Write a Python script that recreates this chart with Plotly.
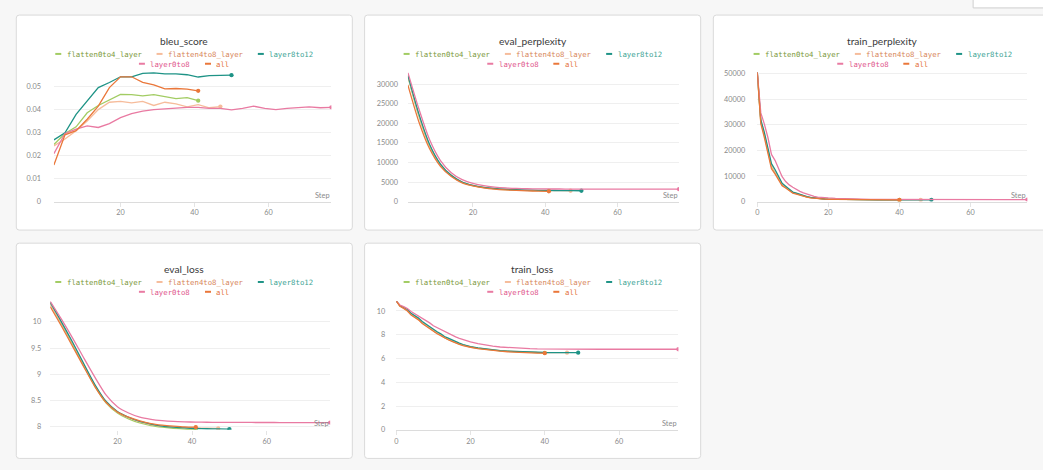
import plotly.graph_objects as go

# ---------------------------------------------------------------- steps
eval_steps = [2, 5, 8, 11, 14, 17, 20, 23, 26, 29, 32, 35, 38, 41, 44, 47,
              50, 53, 56, 59, 62, 65, 68, 71, 74, 77]
train_steps = [0, 1, 2, 3, 4, 5, 6, 7, 8, 9, 10, 11, 12, 13, 14, 15, 16, 17, 18, 19, 20,
               22, 24, 26, 28, 30, 32, 34, 36, 38, 40,
               43, 46, 49, 52, 55, 58, 61, 64, 67, 70, 73, 76]

runs = ["flatten0to4_layer", "flatten4to8_layer", "layer8to12", "layer0to8", "all"]

# ---------------------------------------------------------------- bleu_score
bleu_flatten0to4 = [0.0249, 0.0297, 0.0326, 0.0387, 0.0419, 0.0444, 0.0467, 0.0466, 0.0461,
                    0.0466, 0.0456, 0.0449, 0.0453, 0.0440]
bleu_flatten4to8 = [0.0243, 0.0273, 0.0309, 0.0351, 0.0401, 0.0433, 0.0437, 0.0430, 0.0437,
                    0.0419, 0.0433, 0.0426, 0.0413, 0.0423, 0.0409, 0.0414]
bleu_layer8to12 = [0.0269, 0.0300, 0.0380, 0.0437, 0.0497, 0.0519, 0.0544, 0.0544, 0.0559,
                   0.0561, 0.0557, 0.0557, 0.0553, 0.0543, 0.0549, 0.0550, 0.0551]
bleu_layer0to8 = [0.0209, 0.0297, 0.0316, 0.0330, 0.0323, 0.0340, 0.0366, 0.0383, 0.0394,
                  0.0401, 0.0404, 0.0409, 0.0411, 0.0411, 0.0406, 0.0406, 0.0400, 0.0406,
                  0.0416, 0.0406, 0.0401, 0.0406, 0.0409, 0.0413, 0.0409, 0.0411]
bleu_all = [0.0159, 0.0291, 0.0309, 0.0359, 0.0416, 0.0497, 0.0544, 0.0544, 0.0520,
            0.0509, 0.0491, 0.0493, 0.0490, 0.0483]

# ---------------------------------------------------------------- eval_perplexity
eppl_flatten0to4 = [32000, 22000, 14300, 9400, 6600, 4900, 4050, 3550, 3250, 3050, 2920,
                    2840, 2790, 2750]
eppl_flatten4to8 = [32100, 22200, 14400, 9500, 6700, 4950, 4100, 3600, 3300, 3100, 2980,
                    2900, 2850, 2810, 2790, 2770]
eppl_layer8to12 = [32300, 22500, 14600, 9600, 6700, 5000, 4150, 3650, 3350, 3150, 3020,
                   2940, 2880, 2840, 2810, 2790, 2770]
eppl_layer0to8 = [33000, 23800, 15800, 10500, 7400, 5600, 4650, 4050, 3700, 3480, 3350,
                  3280, 3240, 3220, 3210, 3200, 3195, 3190, 3190, 3185, 3185, 3180,
                  3180, 3180, 3180, 3180]
eppl_all = [29800, 20500, 13500, 9000, 6400, 4800, 4000, 3500, 3180, 2980, 2840, 2740,
            2670, 2620]

# ---------------------------------------------------------------- eval_loss
eloss_flatten0to4 = [10.35, 9.97, 9.57, 9.16, 8.77, 8.45, 8.26, 8.15, 8.07, 8.02, 7.99,
                     7.97, 7.955, 7.945]
eloss_flatten4to8 = [10.35, 9.98, 9.59, 9.18, 8.79, 8.47, 8.28, 8.17, 8.09, 8.04, 8.01,
                     7.99, 7.98, 7.975, 7.97, 7.966]
eloss_layer8to12 = [10.37, 10.00, 9.61, 9.20, 8.80, 8.48, 8.29, 8.18, 8.10, 8.05, 8.01,
                    7.99, 7.975, 7.965, 7.96, 7.956, 7.953]
eloss_layer0to8 = [10.39, 10.05, 9.69, 9.31, 8.94, 8.60, 8.38, 8.26, 8.18, 8.14, 8.115,
                   8.10, 8.092, 8.087, 8.084, 8.082, 8.081, 8.08, 8.08, 8.079, 8.079,
                   8.078, 8.078, 8.078, 8.077, 8.077]
eloss_all = [10.29, 9.92, 9.53, 9.14, 8.76, 8.46, 8.28, 8.18, 8.11, 8.06, 8.03, 8.01,
             7.995, 7.99]

# ---------------------------------------------------------------- train_perplexity
tppl_flatten0to4 = [50500, 31000, 25800, 19800, 13600, 11400, 8900, 6500, 5500, 4500, 3450,
                    3050, 2600, 2050, 1780, 1520, 1330, 1190, 1060, 970, 920,
                    845, 785, 745, 715, 695, 680, 668, 660, 654, 650]
tppl_flatten4to8 = [50500, 31300, 26200, 20200, 14000, 11800, 9200, 6800, 5700, 4700, 3550,
                    3150, 2680, 2120, 1830, 1560, 1370, 1220, 1080, 990, 935,
                    860, 800, 760, 730, 710, 693, 682, 673, 667, 662, 658, 655]
tppl_layer8to12 = [50500, 32000, 27000, 21000, 14800, 12500, 9800, 7100, 6000, 4900, 3700,
                   3300, 2800, 2200, 1900, 1600, 1400, 1250, 1100, 1000, 950,
                   870, 810, 770, 740, 720, 705, 695, 685, 675, 670, 665, 662, 660]
tppl_layer0to8 = [50500, 34600, 30200, 25000, 18400, 16100, 12900, 9700, 7800, 6500, 5600,
                  4700, 4000, 3400, 2900, 2400, 2000, 1750, 1580, 1470, 1400,
                  1250, 1120, 1030, 960, 910, 870, 840, 820, 800, 790,
                  780, 780, 775, 775, 775, 770, 770, 770, 770, 770, 770, 770]
tppl_all = [50500, 30500, 25000, 19000, 12800, 10800, 8400, 6200, 5300, 4300, 3300,
            2900, 2450, 1950, 1700, 1450, 1280, 1150, 1020, 940, 890,
            820, 760, 720, 690, 670, 655, 645, 640, 635, 630]

# ---------------------------------------------------------------- train_loss
tloss_flatten0to4 = [10.83, 10.42, 10.25, 10.05, 9.72, 9.50, 9.30, 9.00, 8.78, 8.58, 8.30,
                     8.13, 7.98, 7.75, 7.62, 7.47, 7.32, 7.22, 7.12, 7.03, 6.97,
                     6.86, 6.78, 6.71, 6.65, 6.61, 6.57, 6.55, 6.52, 6.50, 6.48]
tloss_flatten4to8 = [10.83, 10.43, 10.26, 10.06, 9.74, 9.52, 9.32, 9.03, 8.80, 8.60, 8.33,
                     8.16, 8.00, 7.78, 7.64, 7.49, 7.34, 7.24, 7.14, 7.05, 6.99,
                     6.87, 6.79, 6.72, 6.66, 6.62, 6.58, 6.56, 6.53, 6.51, 6.50, 6.49, 6.49]
tloss_layer8to12 = [10.83, 10.45, 10.30, 10.12, 9.80, 9.60, 9.40, 9.12, 8.90, 8.70, 8.42,
                    8.25, 8.08, 7.85, 7.72, 7.56, 7.40, 7.30, 7.18, 7.08, 7.01,
                    6.89, 6.80, 6.73, 6.67, 6.62, 6.59, 6.56, 6.54, 6.52, 6.51, 6.50, 6.50, 6.49]
tloss_layer0to8 = [10.83, 10.50, 10.36, 10.20, 9.95, 9.76, 9.60, 9.36, 9.16, 9.00, 8.76,
                   8.60, 8.45, 8.26, 8.12, 7.97, 7.82, 7.70, 7.60, 7.49, 7.41,
                   7.26, 7.14, 7.04, 6.97, 6.92, 6.88, 6.85, 6.83, 6.81, 6.80,
                   6.79, 6.79, 6.78, 6.78, 6.78, 6.78, 6.78, 6.78, 6.78, 6.78, 6.78, 6.78]
tloss_all = [10.83, 10.40, 10.22, 10.00, 9.66, 9.45, 9.25, 8.95, 8.72, 8.52, 8.25,
             8.08, 7.93, 7.72, 7.58, 7.44, 7.29, 7.19, 7.09, 7.01, 6.95,
             6.84, 6.75, 6.68, 6.62, 6.57, 6.53, 6.50, 6.48, 6.46, 6.45]

# ---------------------------------------------------------------- styling
W, H = 1043, 470
line_colors = {"flatten0to4_layer": "#a2cc63", "flatten4to8_layer": "#f6bc9b",
               "layer8to12": "#1e9386", "layer0to8": "#e97aa2", "all": "#ea773a"}
text_colors = {"flatten0to4_layer": "#7b983b", "flatten4to8_layer": "#d7865a",
               "layer8to12": "#3ba394", "layer0to8": "#e0558b", "all": "#e4713a"}
SANS = "Lato, 'Open Sans', sans-serif"
MONO = "'DejaVu Sans Mono', monospace"
TICK_COLOR = "#8a8a8a"


def fx(p):
    return p / W


def fy(p):
    return 1 - p / H


panels = [
    dict(title="bleu_score", card=(14.3, 12.3, 351, 231), plot=(52, 330), ybot=202,
         xr=[2, 77], yr=[0, 0.057], ypx=2333.3, steps=eval_steps, spline=False, stand=12,
         yt=[0, 0.01, 0.02, 0.03, 0.04, 0.05], ytt=["0", "0.01", "0.02", "0.03", "0.04", "0.05"],
         xt=[20, 40, 60], base=True,
         data=[bleu_flatten0to4, bleu_flatten4to8, bleu_layer8to12, bleu_layer0to8, bleu_all]),
    dict(title="eval_perplexity", card=(363.3, 12.3, 700, 231), plot=(406.7, 678.3), ybot=202,
         xr=[2, 77], yr=[0, 33000], ypx=119.3 / 30000, steps=eval_steps, spline=True, stand=9,
         yt=[0, 5000, 10000, 15000, 20000, 25000, 30000],
         ytt=["0", "5000", "10000", "15000", "20000", "25000", "30000"],
         xt=[20, 40, 60], base=True,
         data=[eppl_flatten0to4, eppl_flatten4to8, eppl_layer8to12, eppl_layer0to8, eppl_all]),
    dict(title="train_perplexity", card=(712.7, 12.3, 1051, 231), plot=(756.7, 1027.3), ybot=202,
         xr=[0, 76], yr=[0, 50500], ypx=130.35 / 50000, steps=train_steps, spline=False, stand=11,
         yt=[0, 10000, 20000, 30000, 40000, 50000],
         ytt=["0", "10000", "20000", "30000", "40000", "50000"],
         xt=[0, 20, 40, 60], base=True,
         data=[tppl_flatten0to4, tppl_flatten4to8, tppl_layer8to12, tppl_layer0to8, tppl_all]),
    dict(title="eval_loss", card=(14.3, 244.3, 351, 463.3), plot=(48.3, 328.8), ybot=434.2,
         xr=[2, 77], yr=[7.94, 10.39], ypx=53.33, steps=eval_steps, spline=True, stand=8,
         yt=[8, 8.5, 9, 9.5, 10], ytt=["8", "8.5", "9", "9.5", "10"],
         xt=[20, 40, 60], base=False,
         data=[eloss_flatten0to4, eloss_flatten4to8, eloss_layer8to12, eloss_layer0to8, eloss_all]),
    dict(title="train_loss", card=(363.3, 244.3, 700, 463.3), plot=(395, 677.7), ybot=434.3,
         xr=[0, 76], yr=[0, 10.83], ypx=12.1, steps=train_steps, spline=False, stand=10,
         yt=[0, 2, 4, 6, 8, 10], ytt=["0", "2", "4", "6", "8", "10"],
         xt=[0, 20, 40, 60], base=True,
         data=[tloss_flatten0to4, tloss_flatten4to8, tloss_layer8to12, tloss_layer0to8, tloss_all]),
]


def card_path(x0, y0, x1, y1, r=3.0):
    rx, ry = r / W, r / H
    X0, X1, YT, YB = fx(x0), fx(x1), fy(y0), fy(y1)
    return (f"M{X0 + rx},{YT} L{X1 - rx},{YT} Q{X1},{YT} {X1},{YT - ry} "
            f"L{X1},{YB + ry} Q{X1},{YB} {X1 - rx},{YB} L{X0 + rx},{YB} "
            f"Q{X0},{YB} {X0},{YB + ry} L{X0},{YT - ry} Q{X0},{YT} {X0 + rx},{YT} Z")


fig = go.Figure()
shapes, annotations = [], []
layout = {}

# small control box peeking in at the top right of the page
shapes.append(dict(type="rect", xref="paper", yref="paper", x0=fx(973), x1=fx(1050),
                   y0=fy(5), y1=fy(-6), fillcolor="white", line=dict(color="#cfcfcf", width=1),
                   layer="below"))

CW = 4.41          # monospace advance at the legend font size
DASH, GAP, SEP = 6, 5.5, 15

for i, p in enumerate(panels, start=1):
    xa, ya = f"xaxis{i}", f"yaxis{i}"
    xref, yref = f"x{i}", f"y{i}"
    cx0, cy0, cx1, cy1 = p["card"]
    shapes.append(dict(type="path", xref="paper", yref="paper", path=card_path(cx0, cy0, cx1, cy1),
                       fillcolor="white", line=dict(color="#dadada", width=1), layer="below"))

    left, right = p["plot"]
    ybot = p["ybot"]
    ytop = ybot - (p["yr"][1] - p["yr"][0]) * p["ypx"]

    layout[xa] = dict(domain=[fx(left), fx(right)], range=p["xr"], anchor=yref,
                      tickvals=p["xt"], ticktext=[str(v) for v in p["xt"]],
                      showgrid=False, zeroline=False, showline=p["base"],
                      linecolor="#dcdcdc", linewidth=1.2,
                      ticks="outside", ticklen=4, tickcolor="#e4e4e4", tickwidth=1,
                      tickfont=dict(family=SANS, size=7.3, color=TICK_COLOR), fixedrange=True)
    layout[ya] = dict(domain=[fy(ybot), fy(ytop)], range=p["yr"], anchor=xref,
                      tickvals=p["yt"], ticktext=p["ytt"], showgrid=True,
                      gridcolor="#efefef", gridwidth=1, zeroline=False, showline=False,
                      ticks="", ticklabelstandoff=p["stand"],
                      tickfont=dict(family=SANS, size=7.3, color=TICK_COLOR), fixedrange=True)

    for run, vals in zip(runs, p["data"]):
        xs = p["steps"][:len(vals)]
        fig.add_trace(go.Scatter(
            x=xs, y=vals, mode="lines", xaxis=xref, yaxis=yref, showlegend=False,
            line=dict(color=line_colors[run], width=1.3,
                      shape="spline" if p["spline"] else "linear", smoothing=0.7),
            hoverinfo="skip"))
        fig.add_trace(go.Scatter(
            x=[xs[-1]], y=[vals[-1]], mode="markers", xaxis=xref, yaxis=yref,
            showlegend=False, marker=dict(color=line_colors[run], size=4.3),
            hoverinfo="skip"))

    center = (cx0 + cx1) / 2
    if i == 3:
        center = 882.3
    annotations.append(dict(x=fx(center), y=fy(cy0 + 26.5), xref="paper", yref="paper",
                            text=p["title"], showarrow=False, xanchor="center", yanchor="middle",
                            font=dict(family=SANS, size=10.2, color="#3a3a3a")))

    # legend: two centred rows
    for row_runs, row_y in ((runs[:3], cy0 + 39.5), (runs[3:], cy0 + 49.5)):
        widths = [DASH + GAP + len(r) * CW for r in row_runs]
        total = sum(widths) + SEP * (len(row_runs) - 1)
        x = center - total / 2
        for r, w in zip(row_runs, widths):
            shapes.append(dict(type="line", xref="paper", yref="paper", x0=fx(x), x1=fx(x + DASH),
                               y0=fy(row_y), y1=fy(row_y), line=dict(color=line_colors[r], width=2)))
            annotations.append(dict(x=fx(x + DASH + GAP - 1), y=fy(row_y + 0.3), xref="paper",
                                    yref="paper", text=r, showarrow=False, xanchor="left",
                                    yanchor="middle", borderpad=0,
                                    font=dict(family=MONO, size=7.33, color=text_colors[r])))
            x += w + SEP

    # axis caption at the lower right of each plot
    annotations.append(dict(x=fx(right + 1), y=fy(ybot - 6.5), xref="paper", yref="paper",
                            text="Step", showarrow=False, xanchor="right", yanchor="middle",
                            font=dict(family=SANS, size=7.4, color="#8a8a8a")))

fig.update_layout(
    width=W, height=H, margin=dict(l=0, r=0, t=0, b=0),
    paper_bgcolor="#f7f7f7", plot_bgcolor="rgba(0,0,0,0)",
    shapes=shapes, annotations=annotations, showlegend=False,
    **layout,
)

fig.write_html("out.html", config={"displayModeBar": False})
